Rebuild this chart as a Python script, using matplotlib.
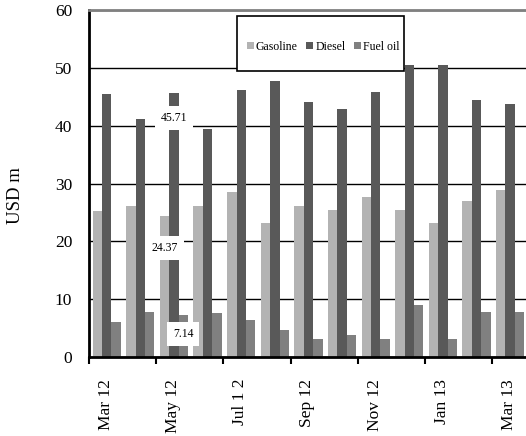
import numpy as np
import matplotlib
matplotlib.use("Agg")
import matplotlib.pyplot as plt
from matplotlib.patches import Rectangle

# ------ Data ------
months = ["Mar 12", "Apr 12", "May 12", "Jun 12", "Jul 12", "Aug 12", "Sep 12",
          "Oct 12", "Nov 12", "Dec 12", "Jan 13", "Feb 13", "Mar 13"]
tick_labels = ["Mar 12", "", "May 12", "", "Jul 1 2", "", "Sep 12",
               "", "Nov 12", "", "Jan 13", "", "Mar 13"]
gasoline = [25.3, 26.1, 24.37, 26.1, 28.5, 23.2, 26.1, 25.5, 27.6, 25.5, 23.2, 27.0, 28.8]
diesel = [45.6, 41.2, 45.71, 39.5, 46.2, 47.7, 44.1, 43.0, 45.9, 50.6, 50.6, 44.5, 43.8]
fuel_oil = [6.0, 7.8, 7.14, 7.5, 6.4, 4.6, 3.1, 3.7, 3.1, 9.0, 3.1, 7.8, 7.8]

series = [("Gasoline", gasoline, "#b3b3b3"),
          ("Diesel", diesel, "#595959"),
          ("Fuel oil", fuel_oil, "#808080")]

# labelled values (May 12) and where the label boxes sit
label_idx = 2
label_pos = {"Diesel": (0.03, 41.4), "Gasoline": (-0.25, 18.85), "Fuel oil": (0.30, 3.93)}

# ------ Style ------
plt.rcParams['font.family'] = ['Liberation Serif', 'DejaVu Serif']

fig = plt.figure(figsize=(5.26, 4.36), dpi=100)
ax = fig.add_axes([0.169, 0.182, 0.831, 0.794])

x = np.arange(len(months))
width = 0.28
for i, (name, vals, color) in enumerate(series):
    ax.bar(x + (i - 1) * width + 0.03, vals, width, color=color, label=name, zorder=2)

ax.set_xlim(-0.5, len(months) - 0.5)
ax.set_ylim(0, 60)
ax.set_yticks(range(0, 61, 10))
ax.yaxis.grid(True, color="black", linewidth=1.0)
ax.set_axisbelow(True)

# tick marks at group boundaries, labels at centres
ax.set_xticks(np.arange(-0.5, len(months) - 0.5, 2))
ax.set_xticklabels([])
ax.tick_params(axis="x", which="major", direction="out", length=5, width=1.5, color="black")
ax.set_xticks(x, minor=True)
ax.set_xticklabels(tick_labels, minor=True, rotation=90, fontsize=12.5)
ax.tick_params(axis="x", which="minor", length=0, pad=16)
ax.tick_params(axis="y", length=0, pad=12, labelsize=12.5)

for s in ["left", "bottom"]:
    ax.spines[s].set_linewidth(2)
    ax.spines[s].set_color("black")
ax.spines["top"].set_color("#808080")
ax.spines["top"].set_linewidth(2)
ax.spines["right"].set_visible(False)

ax.set_ylabel("USD m", fontsize=13.5, va="center")
ax.yaxis.set_label_coords(-0.169, 0.464)

# data labels
vals_by_name = {name: vals for name, vals, _ in series}
for name, (dx, y) in label_pos.items():
    ax.text(label_idx + dx, y, f"{vals_by_name[name][label_idx]:.2f}", fontsize=8.5,
            ha="center", va="center", zorder=4,
            bbox=dict(boxstyle="square,pad=0.5", facecolor="white", edgecolor="none"))

# legend box
ax.add_patch(Rectangle((0.339, 0.824), 0.3825, 0.159, transform=ax.transAxes,
                       facecolor="white", edgecolor="black", linewidth=1.2, zorder=5))
leg = ax.legend(loc="center", bbox_to_anchor=(0.536, 0.895), ncol=3, frameon=False,
                fontsize=8.5, handlelength=0.6, handleheight=0.6, handletextpad=0.2,
                columnspacing=0.7, borderpad=0.2)
leg.set_zorder(6)

fig.savefig("out.png", dpi=100)
